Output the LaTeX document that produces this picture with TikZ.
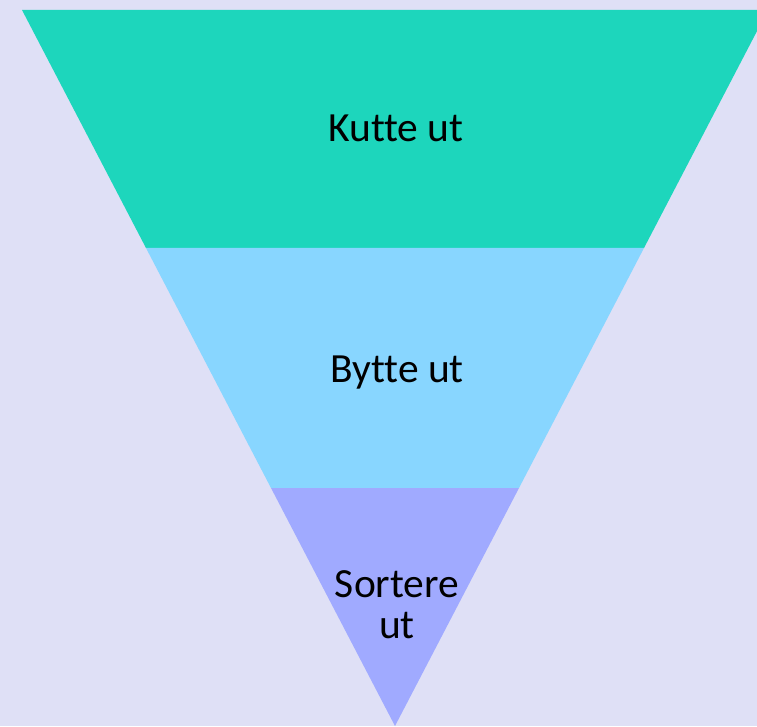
\documentclass[tikz,border=0pt]{standalone}
\usepackage{fontspec}
\setmainfont{Carlito}[Ligatures=NoCommon]
\definecolor{bgcol}{HTML}{DFE0F6}
\definecolor{topband}{HTML}{1DD6BC}
\definecolor{midband}{HTML}{88D6FF}
\definecolor{lowband}{HTML}{A0AAFF}
\tikzset{
  bandlabel/.style={font=\fontsize{41.5}{41.5}\selectfont, text=black, anchor=base, align=center, inner sep=0pt}
}
\begin{document}
\begin{tikzpicture}[x=1pt,y=1pt]
  \useasboundingbox (0,0) rectangle (757,726);
  \fill[bgcol] (0,0) rectangle (757,726);
  \clip (0,0) rectangle (757,726);
  % funnel bands, apex at (395,0)
  \fill[topband] (395-373,716) -- (395+373,716) -- (395+249,478) -- (395-249,478) -- cycle;
  \fill[midband] (395-249,478) -- (395+249,478) -- (395+124,238) -- (395-124,238) -- cycle;
  \fill[lowband] (395-124,238) -- (395+124,238) -- (395,0) -- cycle;
  % labels
  \node[bandlabel] (kutte) at (396,584) {Kutte ut};
  \node[bandlabel] (bytte) at (397,343) {Bytte ut};
  \node[bandlabel] (sort1) at (397,129) {Sortere};
  \node[bandlabel] (sort2) at (397,88) {ut};
\end{tikzpicture}
\end{document}
